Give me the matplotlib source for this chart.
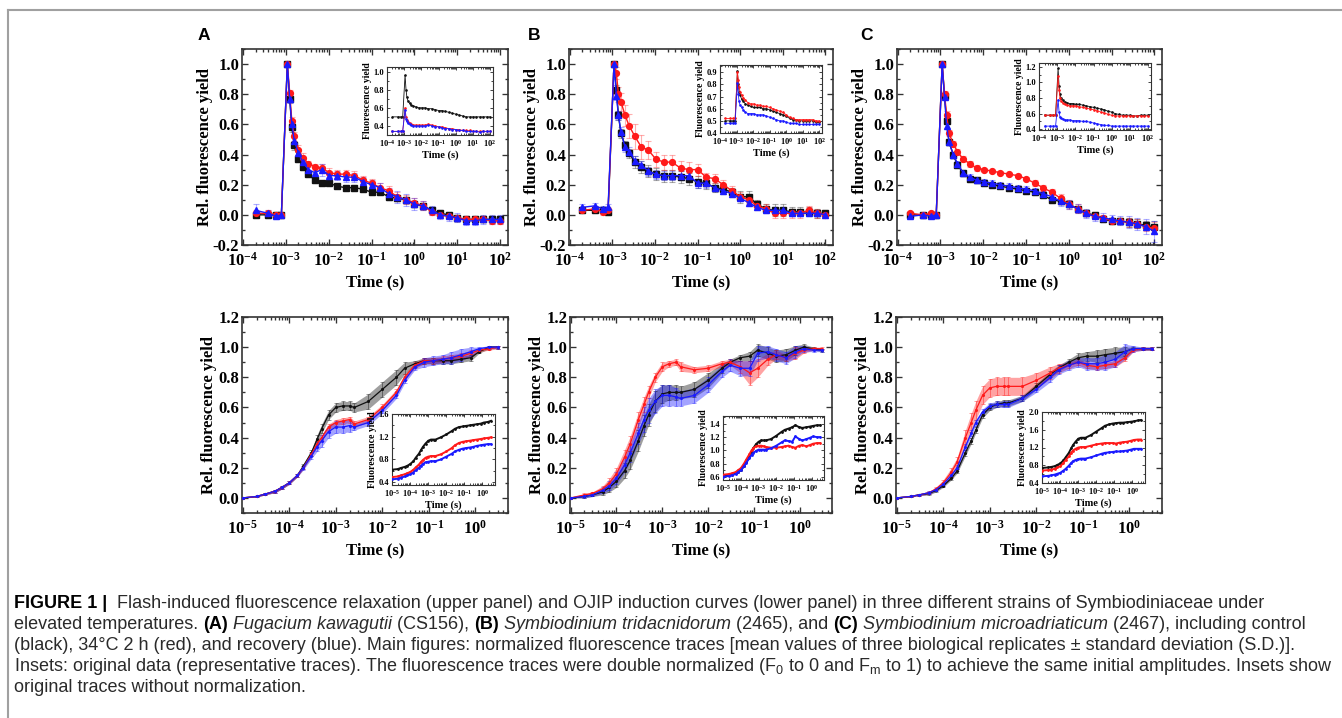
import numpy as np
import matplotlib
matplotlib.use("Agg")
import matplotlib.pyplot as plt
from matplotlib.lines import Line2D
from matplotlib.ticker import LogLocator, MultipleLocator, FuncFormatter, NullFormatter

W, H = 1342, 718

# ---------------- flash-induced relaxation (upper panels) ----------------
t_flash = [2e-4, 4e-4, 6e-4, 8e-4, 1.1e-3, 1.25e-3, 1.4e-3, 1.6e-3, 2e-3, 2.5e-3,
           3.4e-3, 4.8e-3, 7e-3, 1.05e-2, 1.6e-2, 2.5e-2, 4e-2, 6.4e-2, 0.1, 0.16,
           0.25, 0.4, 0.64, 1.0, 1.6, 2.5, 4.0, 6.4, 10, 16, 25, 40, 64, 100]

fa_black = [0.0, 0.0, 0.0, 0.0, 1.0, 0.77, 0.58, 0.46, 0.37, 0.32, 0.27, 0.23, 0.21, 0.21, 0.19, 0.18, 0.18,
            0.17, 0.15, 0.15, 0.12, 0.11, 0.10, 0.07, 0.06, 0.03, 0.01, 0.0, -0.02, -0.03, -0.03, -0.03, -0.03, -0.03]
fa_red = [0.01, 0.01, 0.0, 0.0, 1.0, 0.81, 0.62, 0.52, 0.43, 0.38, 0.34, 0.32, 0.31, 0.28, 0.27, 0.27, 0.26,
          0.23, 0.21, 0.18, 0.16, 0.12, 0.10, 0.08, 0.06, 0.02, 0.0, -0.01, -0.02, -0.03, -0.03, -0.03, -0.04, -0.04]
fa_blue = [0.03, 0.01, -0.01, 0.0, 1.0, 0.77, 0.60, 0.49, 0.41, 0.35, 0.30, 0.28, 0.30, 0.26, 0.26, 0.25, 0.25,
           0.22, 0.20, 0.18, 0.14, 0.12, 0.10, 0.07, 0.06, 0.03, 0.0, -0.01, -0.02, -0.04, -0.04, -0.03, -0.03, -0.03]
fa_black_sd = [0.02, 0.02, 0.02, 0.01, 0.0, 0.02, 0.03, 0.03, 0.02, 0.02, 0.02, 0.02, 0.01, 0.01, 0.01, 0.01, 0.01,
               0.01, 0.01, 0.01, 0.02, 0.02, 0.02, 0.02, 0.02, 0.02, 0.02, 0.02, 0.02, 0.02, 0.02, 0.02, 0.02, 0.02]
fa_red_sd = [0.02, 0.02, 0.02, 0.01, 0.0, 0.02, 0.03, 0.03, 0.03, 0.03, 0.02, 0.02, 0.03, 0.03, 0.03, 0.03, 0.03,
             0.03, 0.03, 0.03, 0.03, 0.03, 0.03, 0.03, 0.03, 0.02, 0.02, 0.02, 0.02, 0.02, 0.02, 0.02, 0.02, 0.02]
fa_blue_sd = [0.04, 0.02, 0.02, 0.01, 0.0, 0.03, 0.03, 0.03, 0.03, 0.03, 0.03, 0.03, 0.04, 0.03, 0.03, 0.03, 0.03,
              0.03, 0.03, 0.03, 0.04, 0.04, 0.04, 0.04, 0.03, 0.03, 0.03, 0.03, 0.03, 0.03, 0.03, 0.03, 0.03, 0.03]

fb_black = [0.03, 0.03, 0.03, 0.02, 1.0, 0.83, 0.66, 0.54, 0.46, 0.41, 0.35, 0.32, 0.29, 0.27, 0.26, 0.26, 0.25,
            0.24, 0.22, 0.21, 0.18, 0.17, 0.15, 0.12, 0.12, 0.07, 0.04, 0.03, 0.03, 0.02, 0.02, 0.02, 0.01, 0.01]
fb_red = [0.03, 0.04, 0.02, 0.03, 1.0, 0.94, 0.80, 0.75, 0.66, 0.59, 0.52, 0.45, 0.43, 0.37, 0.35, 0.35, 0.31,
          0.30, 0.30, 0.25, 0.24, 0.20, 0.16, 0.12, 0.10, 0.06, 0.04, 0.01, 0.01, 0.01, 0.01, 0.03, 0.01, 0.0]
fb_blue = [0.05, 0.06, 0.04, 0.05, 1.0, 0.79, 0.66, 0.55, 0.45, 0.42, 0.36, 0.33, 0.29, 0.27, 0.26, 0.26, 0.26,
           0.26, 0.21, 0.21, 0.18, 0.16, 0.14, 0.11, 0.08, 0.05, 0.03, 0.03, 0.03, 0.01, 0.01, 0.01, 0.01, 0.0]
fb_black_sd = [0.02, 0.02, 0.02, 0.02, 0.0, 0.03, 0.03, 0.03, 0.03, 0.03, 0.04, 0.04, 0.04, 0.04, 0.04, 0.04, 0.04,
               0.04, 0.04, 0.04, 0.03, 0.03, 0.03, 0.04, 0.04, 0.03, 0.03, 0.04, 0.04, 0.03, 0.03, 0.03, 0.03, 0.02]
fb_red_sd = [0.02, 0.02, 0.02, 0.02, 0.0, 0.04, 0.05, 0.06, 0.07, 0.08, 0.08, 0.08, 0.06, 0.05, 0.05, 0.05, 0.05,
             0.05, 0.04, 0.03, 0.03, 0.03, 0.03, 0.03, 0.03, 0.03, 0.03, 0.03, 0.03, 0.03, 0.03, 0.03, 0.03, 0.02]
fb_blue_sd = [0.02, 0.02, 0.02, 0.02, 0.0, 0.03, 0.03, 0.03, 0.03, 0.03, 0.03, 0.03, 0.03, 0.03, 0.03, 0.03, 0.03,
              0.03, 0.03, 0.03, 0.02, 0.02, 0.02, 0.02, 0.02, 0.02, 0.02, 0.02, 0.02, 0.02, 0.02, 0.02, 0.02, 0.02]

fc_black = [0.0, 0.0, 0.0, 0.0, 1.0, 0.79, 0.62, 0.48, 0.40, 0.33, 0.28, 0.24, 0.23, 0.21, 0.20, 0.19, 0.18,
            0.17, 0.16, 0.15, 0.13, 0.10, 0.09, 0.07, 0.04, 0.01, 0.0, -0.03, -0.04, -0.04, -0.05, -0.06, -0.07, -0.08]
fc_red = [0.01, 0.0, 0.01, 0.0, 1.0, 0.80, 0.66, 0.54, 0.47, 0.42, 0.37, 0.34, 0.31, 0.30, 0.29, 0.28, 0.27,
          0.26, 0.24, 0.21, 0.18, 0.15, 0.11, 0.07, 0.04, 0.01, -0.01, -0.02, -0.04, -0.04, -0.05, -0.06, -0.08, -0.09]
fc_blue = [-0.01, 0.0, -0.01, 0.0, 1.0, 0.78, 0.59, 0.48, 0.40, 0.34, 0.28, 0.25, 0.23, 0.22, 0.21, 0.20, 0.19,
           0.18, 0.17, 0.16, 0.14, 0.12, 0.09, 0.07, 0.04, 0.01, -0.01, -0.02, -0.03, -0.04, -0.05, -0.06, -0.08, -0.11]
fc_black_sd = [0.01, 0.01, 0.01, 0.01, 0.0, 0.02, 0.02, 0.02, 0.02, 0.02, 0.02, 0.02, 0.02, 0.02, 0.02, 0.02, 0.02,
               0.02, 0.02, 0.02, 0.02, 0.02, 0.02, 0.02, 0.02, 0.02, 0.02, 0.02, 0.02, 0.02, 0.03, 0.03, 0.03, 0.04]
fc_red_sd = [0.01, 0.01, 0.01, 0.01, 0.0, 0.02, 0.03, 0.02, 0.02, 0.02, 0.02, 0.02, 0.02, 0.01, 0.01, 0.01, 0.01,
             0.01, 0.01, 0.02, 0.02, 0.02, 0.03, 0.03, 0.03, 0.02, 0.02, 0.02, 0.02, 0.02, 0.03, 0.03, 0.03, 0.04]
fc_blue_sd = [0.01, 0.01, 0.01, 0.01, 0.0, 0.02, 0.02, 0.02, 0.02, 0.02, 0.02, 0.02, 0.02, 0.02, 0.02, 0.02, 0.02,
              0.02, 0.02, 0.02, 0.02, 0.02, 0.03, 0.03, 0.03, 0.03, 0.03, 0.03, 0.03, 0.03, 0.04, 0.04, 0.05, 0.07]

# insets: raw flash-induced traces
ia_black = [0.50, 0.50, 0.50, 0.50, 0.96, 0.80, 0.72, 0.68, 0.65, 0.63, 0.62, 0.61, 0.60, 0.60, 0.60, 0.59, 0.59,
            0.58, 0.57, 0.57, 0.56, 0.55, 0.54, 0.53, 0.52, 0.51, 0.50, 0.50, 0.50, 0.50, 0.50, 0.50, 0.50, 0.50]
ia_red = [0.34, 0.34, 0.34, 0.34, 0.60, 0.50, 0.46, 0.44, 0.43, 0.42, 0.41, 0.41, 0.41, 0.41, 0.41, 0.42, 0.41,
          0.40, 0.39, 0.39, 0.38, 0.37, 0.37, 0.36, 0.36, 0.35, 0.35, 0.35, 0.34, 0.34, 0.34, 0.34, 0.34, 0.34]
ia_blue = [0.34, 0.34, 0.34, 0.34, 0.58, 0.48, 0.45, 0.43, 0.42, 0.41, 0.40, 0.40, 0.40, 0.40, 0.40, 0.41, 0.40,
           0.39, 0.39, 0.38, 0.37, 0.37, 0.36, 0.36, 0.35, 0.35, 0.34, 0.34, 0.34, 0.34, 0.33, 0.34, 0.34, 0.34]
ib_black = [0.50, 0.50, 0.50, 0.50, 0.91, 0.80, 0.74, 0.71, 0.68, 0.66, 0.64, 0.63, 0.62, 0.61, 0.61, 0.61, 0.60,
            0.60, 0.59, 0.58, 0.57, 0.56, 0.55, 0.54, 0.52, 0.51, 0.51, 0.50, 0.50, 0.50, 0.50, 0.50, 0.49, 0.49]
ib_red = [0.52, 0.52, 0.52, 0.52, 0.90, 0.84, 0.78, 0.74, 0.71, 0.69, 0.67, 0.65, 0.64, 0.64, 0.63, 0.63, 0.62,
          0.62, 0.61, 0.60, 0.59, 0.58, 0.57, 0.55, 0.53, 0.52, 0.51, 0.51, 0.51, 0.51, 0.51, 0.51, 0.50, 0.50]
ib_blue = [0.48, 0.48, 0.48, 0.48, 0.81, 0.72, 0.66, 0.63, 0.61, 0.59, 0.57, 0.56, 0.56, 0.56, 0.55, 0.55, 0.55,
           0.54, 0.53, 0.52, 0.51, 0.50, 0.50, 0.49, 0.48, 0.48, 0.48, 0.47, 0.47, 0.47, 0.47, 0.47, 0.47, 0.47]
ic_black = [0.58, 0.58, 0.58, 0.58, 1.18, 0.95, 0.85, 0.80, 0.77, 0.75, 0.74, 0.73, 0.73, 0.72, 0.72, 0.71, 0.70,
            0.69, 0.68, 0.67, 0.66, 0.65, 0.63, 0.62, 0.60, 0.59, 0.58, 0.58, 0.58, 0.57, 0.57, 0.58, 0.58, 0.58]
ic_red = [0.58, 0.58, 0.58, 0.58, 1.08, 0.90, 0.80, 0.76, 0.74, 0.72, 0.71, 0.70, 0.70, 0.70, 0.69, 0.68, 0.67,
          0.66, 0.65, 0.64, 0.62, 0.61, 0.59, 0.58, 0.57, 0.57, 0.57, 0.57, 0.57, 0.57, 0.57, 0.57, 0.57, 0.57]
ic_blue = [0.44, 0.44, 0.44, 0.44, 0.78, 0.62, 0.56, 0.54, 0.53, 0.52, 0.52, 0.52, 0.51, 0.51, 0.51, 0.50, 0.50,
           0.49, 0.48, 0.47, 0.46, 0.45, 0.45, 0.44, 0.44, 0.44, 0.44, 0.44, 0.44, 0.44, 0.44, 0.44, 0.44, 0.44]

# ---------------- OJIP induction (lower panels) ----------------
t_ojip = [1e-5, 2e-5, 3e-5, 5e-5, 7e-5, 1e-4, 1.5e-4, 2e-4, 3e-4, 4e-4, 5e-4, 7e-4, 1e-3, 1.4e-3, 2e-3,
          2.5e-3, 5e-3, 1e-2, 2e-2, 3e-2, 5e-2, 8e-2, 0.12, 0.2, 0.3, 0.5, 0.8, 1.2, 2.0, 3.0]

oa_black = [0.0, 0.01, 0.025, 0.045, 0.07, 0.10, 0.15, 0.21, 0.30, 0.39, 0.46, 0.55, 0.60, 0.61, 0.61,
            0.60, 0.64, 0.72, 0.80, 0.86, 0.89, 0.91, 0.91, 0.91, 0.91, 0.92, 0.93, 0.97, 1.0, 1.0]
oa_red = [0.0, 0.01, 0.025, 0.045, 0.07, 0.10, 0.15, 0.20, 0.29, 0.36, 0.40, 0.47, 0.50, 0.51, 0.52,
          0.49, 0.52, 0.60, 0.70, 0.80, 0.88, 0.91, 0.91, 0.92, 0.93, 0.94, 0.96, 0.98, 0.99, 1.0]
oa_blue = [0.0, 0.01, 0.025, 0.045, 0.07, 0.10, 0.15, 0.20, 0.28, 0.34, 0.38, 0.44, 0.47, 0.47, 0.48,
           0.47, 0.50, 0.58, 0.68, 0.78, 0.87, 0.90, 0.91, 0.92, 0.93, 0.95, 0.97, 0.99, 1.0, 1.0]
oa_black_sd = [0.0, 0.005, 0.005, 0.01, 0.01, 0.01, 0.01, 0.015, 0.02, 0.03, 0.03, 0.03, 0.03, 0.03, 0.03,
               0.03, 0.05, 0.05, 0.05, 0.04, 0.02, 0.02, 0.02, 0.02, 0.02, 0.02, 0.02, 0.01, 0.01, 0.01]
oa_red_sd = [0.0, 0.005, 0.005, 0.01, 0.01, 0.01, 0.01, 0.01, 0.015, 0.02, 0.02, 0.02, 0.02, 0.02, 0.02,
             0.02, 0.02, 0.02, 0.02, 0.02, 0.02, 0.02, 0.02, 0.02, 0.02, 0.02, 0.02, 0.01, 0.01, 0.01]
oa_blue_sd = [0.0, 0.005, 0.005, 0.01, 0.01, 0.01, 0.01, 0.015, 0.02, 0.03, 0.04, 0.04, 0.04, 0.04, 0.04,
              0.02, 0.02, 0.02, 0.02, 0.02, 0.02, 0.03, 0.03, 0.03, 0.04, 0.04, 0.03, 0.01, 0.01, 0.01]

ob_black = [0.0, 0.01, 0.02, 0.04, 0.07, 0.11, 0.18, 0.25, 0.38, 0.48, 0.55, 0.64, 0.69, 0.70, 0.70,
            0.70, 0.72, 0.78, 0.86, 0.90, 0.93, 0.94, 0.98, 0.96, 0.94, 0.95, 0.98, 1.0, 0.99, 0.98]
ob_red = [0.0, 0.02, 0.03, 0.06, 0.10, 0.16, 0.27, 0.36, 0.52, 0.62, 0.70, 0.80, 0.87, 0.89, 0.90,
          0.87, 0.85, 0.86, 0.89, 0.90, 0.87, 0.83, 0.86, 0.92, 0.95, 0.93, 0.96, 0.98, 0.99, 0.99]
ob_blue = [0.0, 0.01, 0.02, 0.05, 0.08, 0.13, 0.22, 0.30, 0.43, 0.52, 0.58, 0.64, 0.68, 0.68, 0.67,
           0.66, 0.68, 0.75, 0.84, 0.88, 0.86, 0.86, 0.96, 0.97, 0.95, 0.93, 0.97, 0.99, 0.98, 0.98]
ob_black_sd = [0.0, 0.01, 0.01, 0.02, 0.03, 0.04, 0.05, 0.06, 0.07, 0.07, 0.07, 0.07, 0.06, 0.05, 0.05,
               0.04, 0.05, 0.05, 0.03, 0.02, 0.02, 0.03, 0.04, 0.04, 0.04, 0.04, 0.03, 0.02, 0.01, 0.01]
ob_red_sd = [0.0, 0.01, 0.01, 0.02, 0.03, 0.04, 0.05, 0.05, 0.05, 0.05, 0.04, 0.03, 0.03, 0.02, 0.02,
             0.03, 0.02, 0.02, 0.02, 0.02, 0.04, 0.08, 0.06, 0.04, 0.03, 0.02, 0.04, 0.02, 0.01, 0.01]
ob_blue_sd = [0.0, 0.01, 0.01, 0.02, 0.03, 0.04, 0.05, 0.06, 0.07, 0.08, 0.08, 0.08, 0.07, 0.07, 0.06,
              0.05, 0.05, 0.05, 0.04, 0.04, 0.05, 0.05, 0.05, 0.04, 0.04, 0.04, 0.04, 0.02, 0.01, 0.01]

oc_black = [0.0, 0.01, 0.02, 0.03, 0.05, 0.08, 0.13, 0.18, 0.30, 0.38, 0.45, 0.55, 0.60, 0.62, 0.63,
            0.63, 0.66, 0.74, 0.82, 0.86, 0.90, 0.93, 0.94, 0.94, 0.95, 0.96, 0.97, 0.99, 0.99, 0.99]
oc_red = [0.0, 0.01, 0.02, 0.035, 0.06, 0.10, 0.17, 0.24, 0.40, 0.50, 0.58, 0.68, 0.73, 0.74, 0.74,
          0.74, 0.74, 0.78, 0.83, 0.86, 0.88, 0.90, 0.88, 0.87, 0.88, 0.89, 0.93, 0.98, 0.99, 0.99]
oc_blue = [0.0, 0.01, 0.02, 0.035, 0.055, 0.09, 0.15, 0.20, 0.34, 0.43, 0.50, 0.57, 0.61, 0.62, 0.62,
           0.62, 0.66, 0.72, 0.80, 0.85, 0.88, 0.90, 0.89, 0.89, 0.90, 0.92, 0.97, 0.99, 0.99, 0.99]
oc_black_sd = [0.0, 0.005, 0.005, 0.01, 0.01, 0.01, 0.01, 0.015, 0.02, 0.02, 0.02, 0.02, 0.02, 0.02, 0.02,
               0.02, 0.02, 0.02, 0.02, 0.02, 0.02, 0.03, 0.03, 0.04, 0.04, 0.04, 0.03, 0.01, 0.01, 0.01]
oc_red_sd = [0.0, 0.005, 0.005, 0.01, 0.01, 0.02, 0.03, 0.03, 0.05, 0.06, 0.06, 0.06, 0.06, 0.06, 0.06,
             0.06, 0.06, 0.05, 0.04, 0.03, 0.02, 0.02, 0.02, 0.02, 0.02, 0.02, 0.02, 0.01, 0.01, 0.01]
oc_blue_sd = [0.0, 0.005, 0.005, 0.01, 0.01, 0.01, 0.015, 0.02, 0.02, 0.02, 0.02, 0.02, 0.02, 0.02, 0.02,
              0.02, 0.02, 0.02, 0.03, 0.03, 0.03, 0.03, 0.04, 0.04, 0.05, 0.05, 0.05, 0.02, 0.01, 0.01]

# insets: raw OJIP traces
ja_black = [0.62, 0.63, 0.65, 0.67, 0.69, 0.72, 0.77, 0.83, 0.90, 0.97, 1.02, 1.08, 1.13, 1.15, 1.15,
            1.15, 1.19, 1.24, 1.30, 1.34, 1.37, 1.38, 1.39, 1.40, 1.41, 1.42, 1.43, 1.45, 1.46, 1.48]
ja_red = [0.49, 0.50, 0.52, 0.54, 0.56, 0.58, 0.62, 0.66, 0.71, 0.76, 0.79, 0.83, 0.85, 0.86, 0.86,
          0.86, 0.89, 0.94, 1.00, 1.05, 1.09, 1.11, 1.12, 1.13, 1.14, 1.15, 1.16, 1.17, 1.18, 1.19]
ja_blue = [0.45, 0.46, 0.48, 0.50, 0.52, 0.54, 0.57, 0.61, 0.65, 0.69, 0.72, 0.75, 0.76, 0.77, 0.77,
           0.77, 0.80, 0.85, 0.90, 0.94, 0.97, 0.99, 1.00, 1.01, 1.02, 1.04, 1.05, 1.06, 1.07, 1.07]
jb_black = [0.61, 0.62, 0.63, 0.65, 0.67, 0.70, 0.76, 0.82, 0.90, 0.98, 1.03, 1.09, 1.13, 1.15, 1.15,
            1.15, 1.17, 1.22, 1.28, 1.31, 1.33, 1.35, 1.38, 1.35, 1.34, 1.35, 1.36, 1.37, 1.38, 1.38]
jb_red = [0.63, 0.64, 0.65, 0.67, 0.70, 0.73, 0.80, 0.86, 0.94, 1.00, 1.03, 1.06, 1.07, 1.07, 1.06,
          1.05, 1.04, 1.04, 1.05, 1.06, 1.07, 1.05, 1.04, 1.07, 1.08, 1.06, 1.08, 1.10, 1.11, 1.11]
jb_blue = [0.60, 0.61, 0.62, 0.64, 0.67, 0.70, 0.76, 0.81, 0.88, 0.93, 0.96, 0.99, 1.01, 1.01, 1.01,
           1.01, 1.03, 1.07, 1.12, 1.15, 1.14, 1.13, 1.21, 1.17, 1.15, 1.17, 1.19, 1.21, 1.20, 1.20]
jc_black = [0.74, 0.75, 0.76, 0.78, 0.81, 0.84, 0.91, 0.98, 1.08, 1.18, 1.25, 1.33, 1.40, 1.42, 1.42,
            1.42, 1.48, 1.56, 1.64, 1.69, 1.72, 1.74, 1.75, 1.76, 1.76, 1.77, 1.78, 1.79, 1.81, 1.82]
jc_red = [0.68, 0.69, 0.70, 0.72, 0.75, 0.78, 0.85, 0.92, 1.00, 1.08, 1.13, 1.17, 1.20, 1.21, 1.21,
          1.21, 1.24, 1.27, 1.29, 1.30, 1.30, 1.30, 1.29, 1.31, 1.32, 1.33, 1.35, 1.37, 1.38, 1.38]
jc_blue = [0.55, 0.56, 0.57, 0.59, 0.61, 0.63, 0.68, 0.72, 0.79, 0.85, 0.89, 0.92, 0.94, 0.95, 0.95,
           0.95, 0.98, 1.02, 1.06, 1.08, 1.09, 1.10, 1.11, 1.11, 1.12, 1.13, 1.15, 1.17, 1.17, 1.17]

BLACK, RED, BLUE = '#111111', '#ff1a1a', '#1a1aff'

plt.rcParams['font.family'] = 'Liberation Serif'
plt.rcParams['font.weight'] = 'bold'
plt.rcParams['mathtext.fontset'] = 'custom'
plt.rcParams['mathtext.rm'] = 'Liberation Serif:bold'
plt.rcParams['mathtext.bf'] = 'Liberation Serif:bold'
plt.rcParams['mathtext.sf'] = 'Liberation Sans:weight=normal'

fig = plt.figure(figsize=(W / 100, H / 100), dpi=100)


def px_axes(l, r, t, b):
    return fig.add_axes([l / W, 1 - b / H, (r - l) / W, (b - t) / H])


def log_fmt(v, pos):
    return r'$\mathbf{10^{%d}}$' % int(round(np.log10(v)))


def style(ax, xlim, ylim, yticks, yminor, fs, lw=1.2, maj=4, mino=2, xpad=5):
    ax.set_xscale('log')
    ax.set_xlim(*xlim)
    ax.set_ylim(*ylim)
    ax.xaxis.set_major_locator(LogLocator(base=10, numticks=20))
    ax.xaxis.set_minor_locator(LogLocator(base=10, subs=np.arange(2, 10), numticks=20))
    ax.xaxis.set_major_formatter(FuncFormatter(log_fmt))
    ax.xaxis.set_minor_formatter(NullFormatter())
    ax.set_yticks(yticks)
    ax.yaxis.set_minor_locator(MultipleLocator(yminor))
    ax.yaxis.set_major_formatter(FuncFormatter(lambda v, p: '%.1f' % v))
    ax.tick_params(which='both', direction='in', top=True, right=True, width=lw * 0.8,
                   labelsize=fs, colors='#333333', labelcolor='black')
    ax.tick_params(which='major', length=maj)
    ax.tick_params(which='minor', length=mino)
    ax.tick_params(axis='x', which='major', pad=xpad)
    ax.tick_params(axis='y', which='major', pad=2)
    for s in ax.spines.values():
        s.set_linewidth(lw)
        s.set_color('#333333')


def flash_main(ax, series):
    for y, sd, col, mk in series:
        eb = ax.errorbar(t_flash, y, yerr=sd, fmt='none', ecolor=col, elinewidth=0.8, capsize=2.2,
                         capthick=0.8, zorder=2)
        for art in list(eb.lines[1]) + list(eb.lines[2]):
            art.set_alpha(0.35)
        ax.plot(t_flash, y, color=col, lw=1.0, marker=mk, ms=4.2, mec=col, zorder=3)
    style(ax, (0.97e-4, 150), (-0.2, 1.1), [-0.2, 0.0, 0.2, 0.4, 0.6, 0.8, 1.0], 0.1, 12)
    ax.set_xlabel('Time (s)', fontsize=12, fontweight='bold')
    ax.set_ylabel('Rel. fluorescence yield', fontsize=12, fontweight='bold')
    ax.xaxis.set_label_coords(0.5, -0.15)
    ax.yaxis.set_label_coords(-0.11, 0.5)


def flash_inset(ax, series, ylim, yticks, yminor):
    for y, col in series:
        ax.plot(t_flash, y, color=col, lw=0.6, marker='.', ms=1.8, zorder=3)
    style(ax, (0.97e-4, 150), ylim, yticks, yminor, 6, lw=0.8, maj=2.5, mino=1.3, xpad=2)
    ax.set_xlabel('Time (s)', fontsize=7.5, fontweight='bold', labelpad=1)
    ax.set_ylabel('Fluorescence yield', fontsize=7, fontweight='bold', labelpad=1)


def ojip_main(ax, series):
    for y, sd, col in series:
        y = np.array(y)
        sd = np.array(sd)
        ax.fill_between(t_ojip, y - sd, y + sd, color=col, alpha=0.4, lw=0, zorder=1)
        eb = ax.errorbar(t_ojip, y, yerr=sd, fmt='none', ecolor=col, elinewidth=0.6, capsize=1.5,
                         capthick=0.6, zorder=2)
        for art in list(eb.lines[1]) + list(eb.lines[2]):
            art.set_alpha(0.5)
        ax.plot(t_ojip, y, color=col, lw=0.9, marker='.', ms=2.5, zorder=3)
    style(ax, (0.97e-5, 5), (-0.1, 1.2), [0.0, 0.2, 0.4, 0.6, 0.8, 1.0, 1.2], 0.1, 12)
    ax.set_xlabel('Time (s)', fontsize=12, fontweight='bold')
    ax.set_ylabel('Rel. fluorescence yield', fontsize=12, fontweight='bold')
    ax.xaxis.set_label_coords(0.5, -0.15)
    ax.yaxis.set_label_coords(-0.095, 0.5)


def ojip_inset(ax, series, ylim, yticks, yminor):
    for y, col in series:
        ax.plot(t_ojip, y, color=col, lw=1.4, marker='.', ms=2, zorder=3)
    style(ax, (0.97e-5, 5), ylim, yticks, yminor, 6, lw=0.8, maj=2.5, mino=1.3, xpad=2)
    ax.set_xlabel('Time (s)', fontsize=7.5, fontweight='bold', labelpad=1)
    ax.set_ylabel('Fluorescence yield', fontsize=7, fontweight='bold', labelpad=1)


# upper row
ax = px_axes(242, 508, 49, 245)
flash_main(ax, [(fa_black, fa_black_sd, BLACK, 's'), (fa_red, fa_red_sd, RED, 'o'),
                (fa_blue, fa_blue_sd, BLUE, '^')])
ax = px_axes(569, 833, 49, 245)
flash_main(ax, [(fb_black, fb_black_sd, BLACK, 's'), (fb_red, fb_red_sd, RED, 'o'),
                (fb_blue, fb_blue_sd, BLUE, '^')])
ax = px_axes(897, 1162, 49, 245)
flash_main(ax, [(fc_black, fc_black_sd, BLACK, 's'), (fc_red, fc_red_sd, RED, 'o'),
                (fc_blue, fc_blue_sd, BLUE, '^')])

ax = px_axes(387, 493, 67, 135)
flash_inset(ax, [(ia_black, BLACK), (ia_red, RED), (ia_blue, BLUE)], (0.3, 1.05), [0.4, 0.6, 0.8, 1.0], 0.1)
ax = px_axes(720, 822, 65, 133)
flash_inset(ax, [(ib_black, BLACK), (ib_red, RED), (ib_blue, BLUE)], (0.4, 0.96),
            [0.4, 0.5, 0.6, 0.7, 0.8, 0.9], 0.05)
ax = px_axes(1039, 1151, 63, 130)
flash_inset(ax, [(ic_black, BLACK), (ic_red, RED), (ic_blue, BLUE)], (0.39, 1.25),
            [0.4, 0.6, 0.8, 1.0, 1.2], 0.1)

# lower row
ax = px_axes(242, 508, 317, 513)
ojip_main(ax, [(oa_black, oa_black_sd, BLACK), (oa_red, oa_red_sd, RED), (oa_blue, oa_blue_sd, BLUE)])
ax = px_axes(570, 832, 317, 513)
ojip_main(ax, [(ob_black, ob_black_sd, BLACK), (ob_red, ob_red_sd, RED), (ob_blue, ob_blue_sd, BLUE)])
ax = px_axes(896, 1162, 317, 513)
ojip_main(ax, [(oc_black, oc_black_sd, BLACK), (oc_red, oc_red_sd, RED), (oc_blue, oc_blue_sd, BLUE)])

ax = px_axes(392, 495, 414, 485)
ojip_inset(ax, [(ja_black, BLACK), (ja_red, RED), (ja_blue, BLUE)], (0.35, 1.6), [0.4, 0.8, 1.2, 1.6], 0.2)
ax = px_axes(723, 824, 416, 480)
ojip_inset(ax, [(jb_black, BLACK), (jb_red, RED), (jb_blue, BLUE)], (0.55, 1.52),
           [0.6, 0.8, 1.0, 1.2, 1.4], 0.1)
ax = px_axes(1042, 1145, 412, 483)
ojip_inset(ax, [(jc_black, BLACK), (jc_red, RED), (jc_blue, BLUE)], (0.4, 2.0),
           [0.4, 0.8, 1.2, 1.6, 2.0], 0.2)

# panel letters
for lx, letter in [(198, 'A'), (528, 'B'), (860, 'C')]:
    fig.text(lx / W, 1 - 35 / H, letter, family='Liberation Sans', weight='bold', size=12.5, va='center')

# frame (top and left edge)
fig.add_artist(Line2D([8 / W, 1], [1 - 10 / H, 1 - 10 / H], color='#a0a0a0', lw=1.5))
fig.add_artist(Line2D([8 / W, 8 / W], [0, 1 - 10 / H], color='#a0a0a0', lw=1.5))

# caption
CAP_FONT = 'Liberation Sans'
CAP_SIZE = 13.0
renderer = fig.canvas.get_renderer()


def advance(txt, weight, style_):
    a = fig.text(0, 0, txt + '|', family=CAP_FONT, size=CAP_SIZE, weight=weight, style=style_)
    b = fig.text(0, 0, '|', family=CAP_FONT, size=CAP_SIZE, weight=weight, style=style_)
    w = a.get_window_extent(renderer).width - b.get_window_extent(renderer).width
    a.remove()
    b.remove()
    return w


def caption_line(y, runs):
    x = 14
    for txt, weight, style_ in runs:
        col = 'black' if weight == 'bold' else '#2a2a2a'
        fig.text(x / W, 1 - y / H, txt, family=CAP_FONT, size=CAP_SIZE, weight=weight,
                 style=style_, color=col, va='baseline', ha='left')
        x += advance(txt, weight, style_)


N, B, I = ('normal', 'normal'), ('bold', 'normal'), ('normal', 'italic')
caption_line(608, [('FIGURE 1 |', *B), ('  Flash-induced fluorescence relaxation (upper panel) and OJIP induction '
                                       'curves (lower panel) in three different strains of Symbiodiniaceae under', *N)])
caption_line(629, [('elevated temperatures. ', *N), ('(A)', *B), (' ', *N), ('Fugacium kawagutii', *I),
                   (' (CS156), ', *N), ('(B)', *B), (' ', *N), ('Symbiodinium tridacnidorum', *I),
                   (' (2465), and ', *N), ('(C)', *B), (' ', *N), ('Symbiodinium microadriaticum', *I),
                   (' (2467), including control', *N)])
caption_line(650, [('(black), 34\u00b0C 2 h (red), and recovery (blue). Main figures: normalized fluorescence '
                    'traces [mean values of three biological replicates \u00b1 standard deviation (S.D.)].', *N)])
caption_line(671, [('Insets: original data (representative traces). The fluorescence traces were double '
                    r'normalized (F$_\mathsf{0}$ to 0 and F$_\mathsf{m}$ to 1) to achieve the same initial '
                    'amplitudes. Insets show', *N)])
caption_line(692, [('original traces without normalization.', *N)])

fig.savefig('out.png', dpi=100)
